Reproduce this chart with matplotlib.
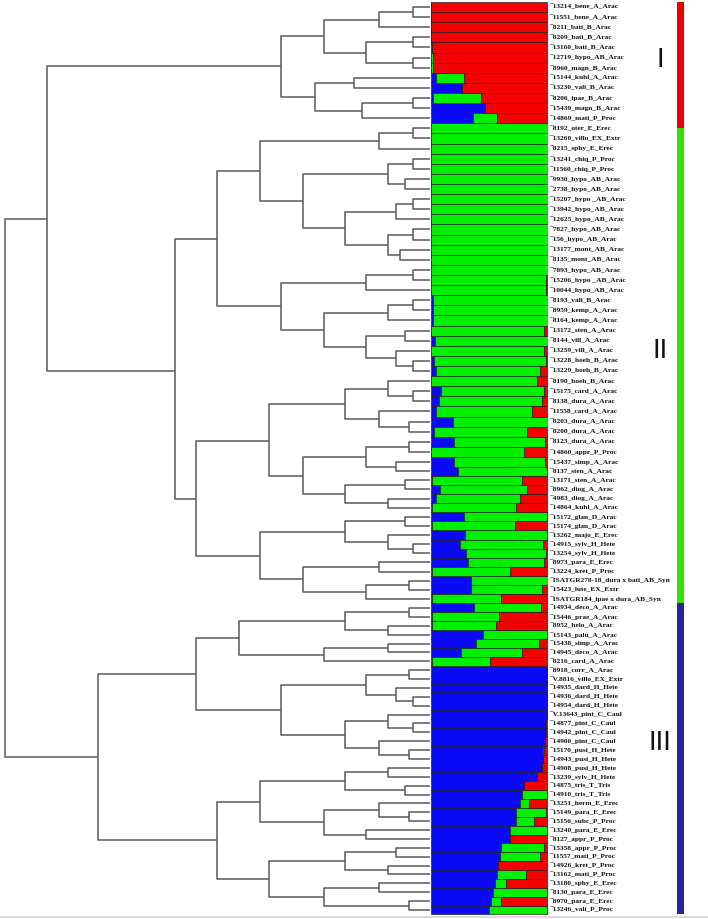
import numpy as np
import matplotlib.pyplot as plt
from matplotlib.lines import Line2D

labels = [
    "13214_bene_A_Arac", "11551_bene_A_Arac", "8211_bati_B_Arac", "8209_bati_B_Arac",
    "13160_bati_B_Arac", "12719_hypo_AB_Arac", "8960_magn_B_Arac", "15144_kuhl_A_Arac",
    "13230_vali_B_Arac", "8206_ipae_B_Arac", "15439_magn_B_Arac", "14869_mati_P_Proc",
    "8192_oter_E_Erec", "13260_villo_EX_Extr", "8215_sphy_E_Erec", "13241_chiq_P_Proc",
    "11560_chiq_P_Proc", "9930_hypo_AB_Arac", "2738_hypo_AB_Arac", "15207_hypo _AB_Arac",
    "13942_hypo_AB_Arac", "12625_hypo_AB_Arac", "7827_hypo_AB_Arac", "156_hypo_AB_Arac",
    "13177_mont_AB_Arac", "8135_mont_AB_Arac", "7893_hypo_AB_Arac", "15206_hypo _AB_Arac",
    "10044_hypo_AB_Arac", "8193_vali_B_Arac", "8959_kemp_A_Arac", "8164_kemp_A_Arac",
    "13172_sten_A_Arac", "8144_vill_A_Arac", "13259_vill_A_Arac", "13228_hoeh_B_Arac",
    "13229_hoeh_B_Arac", "8190_hoeh_B_Arac", "15175_card_A_Arac", "8138_dura_A_Arac",
    "11558_card_A_Arac", "8203_dura_A_Arac", "8200_dura_A_Arac", "8123_dura_A_Arac",
    "14860_appr_P_Proc", "15437_simp_A_Arac", "8137_sten_A_Arac", "13171_sten_A_Arac",
    "8962_diog_A_Arac", "4983_diog_A_Arac", "14864_kuhl_A_Arac", "15172_glan_D_Arac",
    "15174_glan_D_Arac", "13262_majo_E_Erec", "14915_sylv_H_Hete", "13254_sylv_H_Hete",
    "8973_para_E_Erec", "13224_kret_P_Proc", "ISATGR278-18_dura x bati_AB_Syn",
    "15423_lute_EX_Extr", "ISATGR184_ipae x dura_AB_Syn", "14934_deco_A_Arac",
    "15446_prae_A_Arac", "8952_helo_A_Arac", "15143_palu_A_Arac", "15438_simp_A_Arac",
    "14945_deco_A_Arac", "8216_card_A_Arac", "8918_corr_A_Arac", "V.8816_villo_EX_Extr",
    "14935_dard_H_Hete", "14936_dard_H_Hete", "14954_dard_H_Hete", "V.13643_pint_C_Caul",
    "14877_pint_C_Caul", "14942_pint_C_Caul", "14900_pint_C_Caul", "15170_pusi_H_Hete",
    "14943_pusi_H_Hete", "14908_pusi_H_Hete", "13239_sylv_H_Hete", "14875_tris_T_Tris",
    "14910_tris_T_Tris", "13251_herm_E_Erec", "15149_para_E_Erec", "15156_subc_P_Proc",
    "13240_para_E_Erec", "8127_appr_P_Proc", "15358_appr_P_Proc", "11557_mati_P_Proc",
    "14926_kret_P_Proc", "13162_mati_P_Proc", "13180_sphy_E_Erec", "8130_para_E_Erec",
    "8970_para_E_Erec", "13246_vali_P_Proc",
]

# membership fractions (cluster 1 = blue, 2 = green, 3 = red)
blue = [0, 0, 0, 0, 0, 0, 0, .04, .27, .02, .46, .36,
        0, 0, 0, 0, 0, 0, 0, 0, 0, 0, 0, 0, 0, 0, 0, 0, 0,
        .015, .015, .02, 0, .037, 0, .03, .04, 0, .086, .071, .04, .189, .023, .194, 0,
        .2, .229, .01, .074, .04, .01, .28, .01, .294, .251, .3, .314, .01, .343, .343, .01,
        .366, .01, .01, .446, .389, .26, .01,
        1, 1, 1, 1, 1, .995, .99, .99, .98, .96, .96, .951, .909, .8, .78, .76, .732, .731,
        .68, .674, .6, .589, .571, .566, .551, .531, .517, .5]
green = [0, 0, 0, 0, .01, .02, .02, .24, 0, .41, 0, .21,
         1, 1, 1, 1, 1, 1, 1, 1, 1, 1, 1, 1, 1, 1, 1, .99, .99,
         .985, .985, .98, .974, .963, .966, .96, .897, .909, .888, .886, .826, .811, .8, .786, .794,
         .78, .765, .77, .749, .72, .721, .714, .713, .7, .709, .686, .66, .664, .657, .608, .59,
         .58, .57, .547, .548, .542, .52, .493,
         0, 0, 0, 0, 0, 0, 0, 0, 0, .01, 0, 0, 0, 0, .214, .077, .257, .149,
         .314, 0, .371, .349, 0, .249, .091, .463, .083, .494]
red = [1, 1, 1, 1, .99, .98, .98, .72, .73, .57, .54, .43,
       0, 0, 0, 0, 0, 0, 0, 0, 0, 0, 0, 0, 0, 0, 0, .01, .01,
       0, 0, 0, .026, 0, .034, .01, .063, .091, .026, .043, .134, 0, .177, .02, .206,
       .02, .006, .22, .177, .24, .269, .006, .277, .006, .04, .014, .026, .326, 0, .049, .4,
       .054, .42, .443, .006, .069, .22, .497,
       0, 0, 0, 0, 0, .005, .01, .01, .02, .03, .04, .049, .091, .2, .006, .163, .011, .12,
       .006, .326, .029, .063, .429, .185, .358, .006, .4, .006]

# UPGMA-style tree: (merge distance, left, right), leaves are row numbers
tree = (1.0,
        (0.9,
         (0.35,
          (0.25, (0.12, (0.04, 1, 2), 3), (0.15, (0.04, 4, 5), (0.04, 6, 7))),
          (0.27, (0.18, 8, 9), (0.16, (0.04, 10, 11), 12))),
         (0.6,
          (0.5,
           (0.4, (0.12, (0.04, 13, 14), 15),
            (0.3, (0.1, (0.04, 16, 17), (0.06, 18, 19)),
             (0.2, (0.08, (0.04, 20, 21), 22), (0.1, (0.04, 23, 24), (0.07, 25, 26))))),
           (0.35, (0.15, (0.04, 27, 28), 29),
            (0.25, (0.1, (0.04, 30, 31), 32),
             (0.15, (0.06, 33, 34), (0.08, 35, (0.04, 36, 37)))))),
          (0.55,
           (0.38, (0.2, (0.1, 38, (0.04, 39, 40)), (0.12, 41, (0.05, 42, 43))),
            (0.3, (0.15, (0.05, 44, 45), (0.08, 46, 47)), (0.2, (0.06, 48, 49), (0.1, 50, 51)))),
           (0.4, (0.2, (0.06, 52, 53), (0.1, 54, (0.04, 55, 56))),
            (0.3, (0.12, 57, 58), (0.15, (0.05, 59, 60), 61)))))),
        (0.78,
         (0.55,
          (0.45, (0.2, (0.05, 62, 63), (0.1, 64, 65)), (0.25, (0.1, 66, 67), 68)),
          (0.35, (0.15, (0.05, 69, 70), (0.08, 71, (0.04, 72, 73))),
           (0.2, (0.1, 74, (0.04, 75, 76)), (0.12, 77, (0.05, 78, 79))))),
         (0.5,
          (0.4, (0.2, (0.1, 80, 81), (0.06, 82, 83)),
           (0.25, (0.12, 84, (0.05, 85, 86)), (0.15, 87, 88))),
          (0.38, (0.2, (0.08, 89, 90), (0.1, 91, 92)),
           (0.25, (0.12, 93, 94), (0.05, 95, 96))))))

group_names = ["I", "II", "III"]
group_bounds = [-0.5, 12, 60.5, 95.5]
group_label_rows = [5.2, 34, 76.2]

C_BLUE, C_GREEN, C_RED = "#0a0af5", "#00f000", "#f50000"
GROUP_COLORS = ["#ee0000", "#33e000", "#2a2398"]
LINE = "#5a5a5a"

W, H = 708, 919
# rows are not evenly spaced in the source image
row_knots = [-10, 0, 45, 61, 95, 105]
px_knots = [-94, 7, 462, 608, 910, 999.6]


def fwd(y):
    return np.interp(y, row_knots, px_knots)


def inv(p):
    return np.interp(p, px_knots, row_knots)


fig = plt.figure(figsize=(W / 100, H / 100), dpi=100)
ax_d = fig.add_axes([0, 0, 430 / W, 1])
ax_b = fig.add_axes([431 / W, 0, 116.5 / W, 1])
ax_g = fig.add_axes([640 / W, 0, 68 / W, 1])
for ax in (ax_d, ax_b, ax_g):
    ax.set_yscale("function", functions=(fwd, inv))
    ax.set_ylim(inv(H), inv(0))
    ax.axis("off")


def draw(node):
    if isinstance(node, int):
        return 0.0, node - 1
    h, a, b = node
    xa, ya = draw(a)
    xb, yb = draw(b)
    ax_d.plot([xa, h, h, xb], [ya, ya, yb, yb], color=LINE, lw=1.1, solid_capstyle="butt")
    return h, (ya + yb) / 2


draw(tree)
ax_d.set_xlim(430 / 425, 0)

rows = np.arange(len(labels))
b = np.array(blue)
g = np.array(green)
r = np.array(red)
kw = dict(height=1.0, edgecolor="#1a1a1a", linewidth=0.45)
ax_b.barh(rows, b, color=C_BLUE, **kw)
ax_b.barh(rows, g, left=b, color=C_GREEN, **kw)
ax_b.barh(rows, r, left=b + g, color=C_RED, **kw)
ax_b.set_xlim(0, 1)

tr = ax_b.get_yaxis_transform()
for i, lab in enumerate(labels):
    ax_b.text(1.015, i, "\u00af" + lab, transform=tr, ha="left", va="center",
              fontsize=5.3, fontweight="bold", family="Liberation Serif", color="#111111")

ax_g.set_xlim(0, 68)
for k, name in enumerate(group_names):
    lo, hi = group_bounds[k], group_bounds[k + 1]
    ax_g.bar(40.5, hi - lo, bottom=lo, width=7, color=GROUP_COLORS[k])
    ax_g.text(20, group_label_rows[k], name, ha="center", va="center",
              fontsize=20, family="Liberation Sans", color="#111111")

fig.add_artist(Line2D([0, 1], [1 - 916.5 / H] * 2, color="#d4d4d4", lw=1.2))

fig.savefig("out.png", dpi=100)
